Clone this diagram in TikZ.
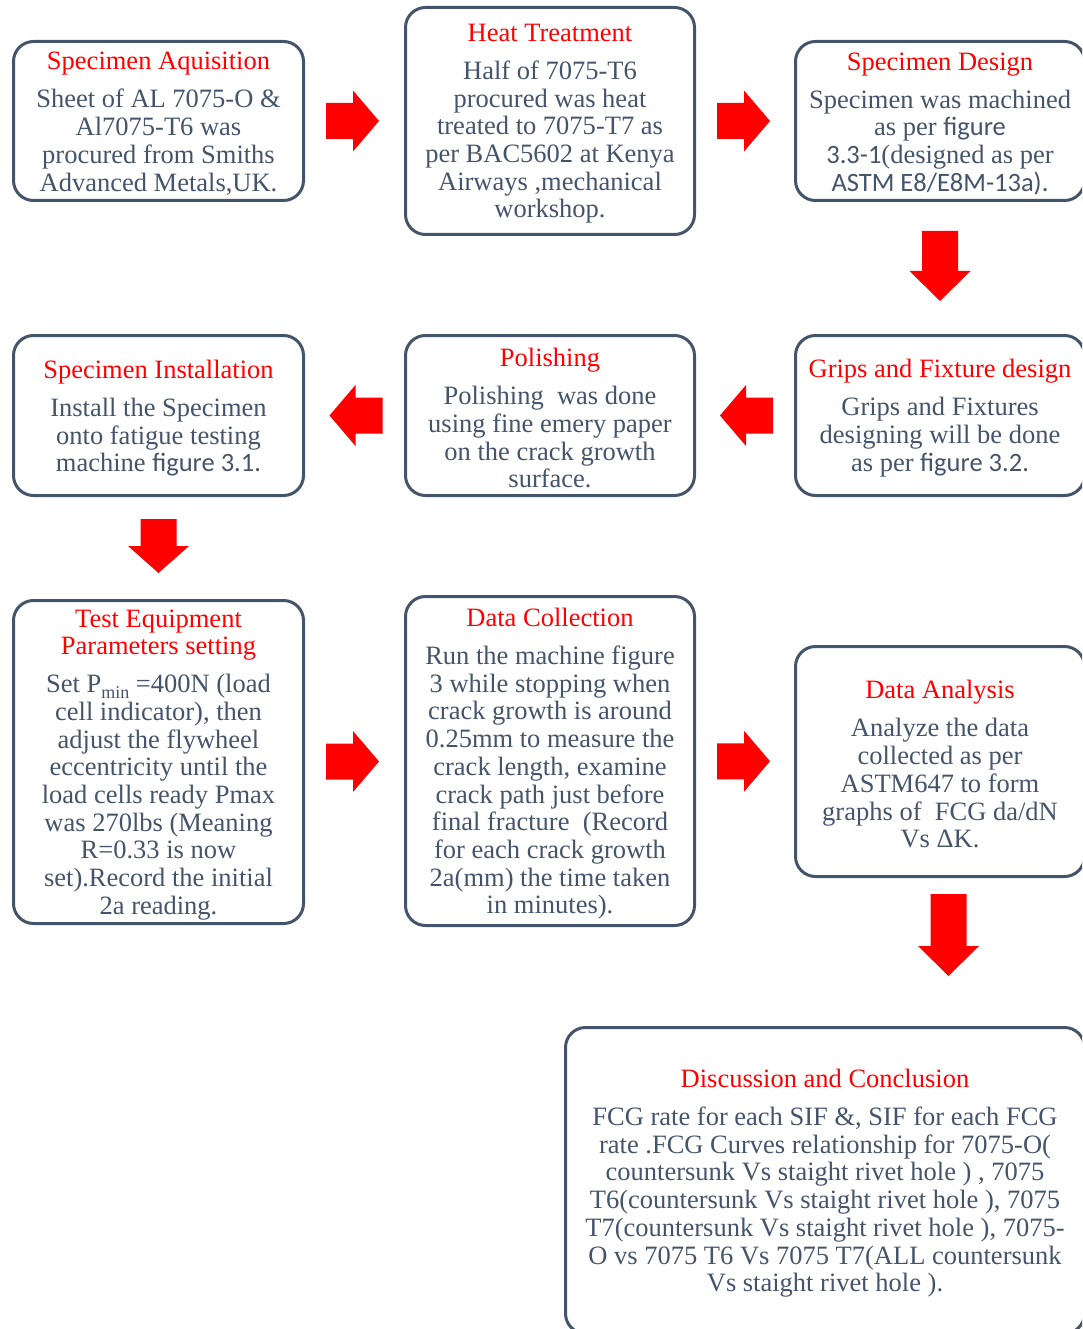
\documentclass[tikz,border=0pt]{standalone}
\usepackage{fontspec}
\setmainfont{Liberation Serif}
\newfontfamily\calib{Carlito}
\usetikzlibrary{calc}

\definecolor{slate}{HTML}{44546A}
\definecolor{headred}{HTML}{FF0000}

% block arrow centred at #1, pointing at angle #2, total length #3, head length #4
\newcommand\barrow[4]{%
  \fill[arrowfill, shift={#1}, rotate=#2]
    ({-#3/2},-18) -- ({#3/2-#4},-18) -- ({#3/2-#4},-30.5) -- ({#3/2},0)
    -- ({#3/2-#4},30.5) -- ({#3/2-#4},18) -- ({-#3/2},18) -- cycle;}

% a stage: rounded frame #1 at #2 (size #3 x #4) with its text #5
\newcommand\stage[5]{%
  \node[stagebox, minimum width=#3, minimum height=#4] (#1) at #2 {};
  \node[stagetext] (#1-text) at ($(#1.center)+(0,2.8)$) {#5};}

\begin{document}
\begin{tikzpicture}[x=1pt, y=-1pt,
  stagebox/.style={draw=slate, line width=3pt, rounded corners=20pt, inner sep=0pt},
  stagetext/.style={inner sep=0pt, align=center, text=slate,
    font=\fontsize{26.5}{27.7}\selectfont},
  arrowfill/.style={fill=headred}]

\useasboundingbox (0,0) rectangle (1082,1329);
\clip (0,0) rectangle (1082,1329);

% first row
\stage{acq}{(158.5,121)}{290pt}{159pt}
  {{\color{headred}Specimen Aquisition}\\[10.3pt]
   Sheet of AL 7075-O \&\\Al7075-T6 was\\procured from Smiths\\Advanced Metals,UK.}
\stage{heat}{(550,121)}{289pt}{227pt}
  {{\color{headred}Heat Treatment}\\[10.3pt]
   Half of 7075-T6\\procured was heat\\treated to 7075-T7 as\\per BAC5602 at Kenya\\Airways ,mechanical\\workshop.}
\stage{design}{(940,121)}{289pt}{159pt}
  {{\color{headred}Specimen Design}\\[10.3pt]
   Specimen was machined\\as per {\calib figure}\\{\calib 3.3-1}(designed as per\\{\calib ASTM E8/E8M-13a).}}

% second row
\stage{inst}{(158.5,415.5)}{290pt}{160pt}
  {{\color{headred}Specimen Installation}\\[10.3pt]
   Install the Specimen\\onto fatigue testing\\machine {\calib figure 3.1.}}
\stage{pol}{(550,415.5)}{289pt}{160pt}
  {{\color{headred}Polishing}\\[10.3pt]
   Polishing~ was done\\using fine emery paper\\on the crack growth\\surface.}
\stage{grips}{(940,415.5)}{289pt}{160pt}
  {{\color{headred}Grips and Fixture design}\\[10.3pt]
   Grips and Fixtures\\designing will be done\\as per {\calib figure 3.2.}}

% third row
\stage{param}{(158.5,762)}{290pt}{323pt}
  {{\color{headred}Test Equipment}\\{\color{headred}Parameters setting}\\[10.3pt]
   Set P\smash{\raisebox{-6pt}{\fontsize{18}{18}\selectfont min}} =400N (load\\cell indicator), then\\adjust the flywheel\\eccentricity until the\\load cells ready Pmax\\was 270lbs (Meaning\\R=0.33 is now\\set).Record the initial\\2a reading.}
\stage{coll}{(550,761)}{289pt}{329pt}
  {{\color{headred}Data Collection}\\[10.3pt]
   Run the machine figure\\3 while stopping when\\crack growth is around\\0.25mm to measure the\\crack length, examine\\crack path just before\\final fracture~ (Record\\for each crack growth\\2a(mm) the time taken\\in minutes).}
\stage{anal}{(940,761.5)}{289pt}{230pt}
  {{\color{headred}Data Analysis}\\[10.3pt]
   Analyze the data\\collected as per\\ASTM647 to form\\graphs of~ FCG da/dN\\Vs ΔK.}

% last stage
\stage{conc}{(825,1180.5)}{519pt}{306pt}
  {{\color{headred}Discussion and Conclusion}\\[10.3pt]
   FCG rate for each SIF \&, SIF for each FCG\\rate .FCG Curves relationship for 7075-O(\\countersunk Vs staight rivet hole ) , 7075\\T6(countersunk Vs staight rivet hole ), 7075\\T7(countersunk Vs staight rivet hole ), 7075-\\O vs 7075 T6 Vs 7075 T7(ALL countersunk\\Vs staight rivet hole ).}

% block arrows between stages
\barrow{($(acq.east)!0.5!(heat.west)+(-2,0)$)}{0}{53}{26}
\barrow{($(heat.east)!0.5!(design.west)+(-1.5,0)$)}{0}{53}{26}
\barrow{($(design.south)!0.5!(grips.north)+(0,-2)$)}{-90}{70}{30}
\barrow{($(grips.west)!0.5!(pol.east)+(1.5,0)$)}{180}{53}{26}
\barrow{($(pol.west)!0.5!(inst.east)+(1.5,0)$)}{180}{53}{26}
\barrow{($(inst.south)!0.5!(param.north)+(0,-2)$)}{-90}{54}{27}
\barrow{($(param.east)!0.5!(coll.west)+(-2,0)$)}{0}{53}{26}
\barrow{($(coll.east)!0.5!(anal.west)+(-1.5,0)$)}{0}{53}{26}
\coordinate (down3) at ($(anal.south)+(8.5,57)$);
\barrow{(down3)}{-90}{82}{30}

\end{tikzpicture}
\end{document}
